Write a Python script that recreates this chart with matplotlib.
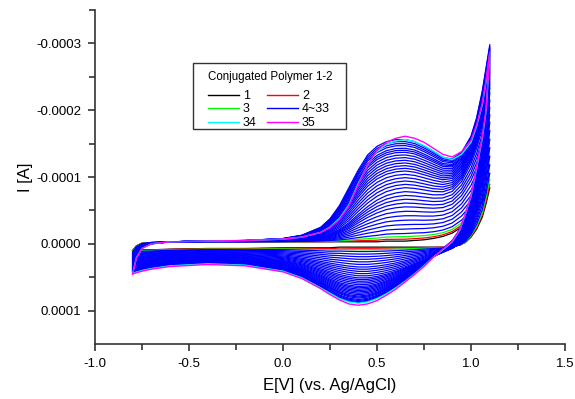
import numpy as np
import matplotlib.pyplot as plt
from matplotlib.ticker import FixedLocator, MultipleLocator, FuncFormatter
from matplotlib.patches import Rectangle
from matplotlib.lines import Line2D

plt.rcParams['font.family'] = ['Liberation Sans', 'DejaVu Sans']

## Potential grids (V vs Ag/AgCl), forward and reverse sweep
E_fwd = [-0.80, -0.78, -0.75, -0.70, -0.60, -0.40, -0.20, 0.00, 0.10, 0.20, 0.25, 0.30, 0.35, 0.40, 0.45,
         0.50, 0.55, 0.60, 0.65, 0.70, 0.75, 0.80, 0.85, 0.90, 0.95, 1.00, 1.03, 1.06, 1.08, 1.10]
E_rev = [1.10, 1.08, 1.06, 1.03, 1.00, 0.97, 0.94, 0.90, 0.85, 0.80, 0.75, 0.70, 0.65, 0.60, 0.55,
         0.50, 0.45, 0.40, 0.35, 0.30, 0.25, 0.20, 0.10, 0.00, -0.20, -0.40, -0.60, -0.70, -0.75, -0.80]

## Currents in units of 1e-4 A (negative = anodic, plotted upward)
# cycle 1 (black)
c1_fwd = [0.10, 0.03, -0.01, -0.02, -0.03, -0.03, -0.03, -0.03, -0.03, -0.03, -0.03, -0.03, -0.03, -0.03, -0.03,
          -0.03, -0.04, -0.04, -0.04, -0.05, -0.06, -0.08, -0.11, -0.16, -0.25, -0.38, -0.50, -0.63, -0.73, -0.84]
c1_rev = [-0.84, -0.60, -0.40, -0.22, -0.10, -0.02, 0.02, 0.04, 0.05, 0.05, 0.05, 0.05, 0.05, 0.05, 0.05,
          0.05, 0.05, 0.05, 0.05, 0.05, 0.06, 0.06, 0.06, 0.06, 0.07, 0.07, 0.08, 0.09, 0.09, 0.10]
# a middle blue cycle (peak about 0.8e-4 A)
mid_fwd = [0.26, 0.12, 0.03, -0.01, -0.03, -0.04, -0.04, -0.05, -0.07, -0.11, -0.15, -0.22, -0.32, -0.45, -0.57,
           -0.67, -0.74, -0.78, -0.80, -0.79, -0.77, -0.75, -0.75, -0.80, -0.95, -1.22, -1.45, -1.75, -2.00, -2.30]
mid_rev = [-2.30, -1.60, -1.15, -0.70, -0.35, -0.14, -0.01, 0.07, 0.13, 0.19, 0.25, 0.30, 0.35, 0.40, 0.44,
           0.47, 0.49, 0.49, 0.47, 0.44, 0.40, 0.36, 0.29, 0.24, 0.20, 0.18, 0.19, 0.21, 0.23, 0.26]
# last blue cycle (33)
c33_fwd = [0.43, 0.20, 0.06, 0.00, -0.03, -0.04, -0.05, -0.08, -0.13, -0.25, -0.38, -0.58, -0.85, -1.12, -1.35,
           -1.48, -1.55, -1.58, -1.58, -1.55, -1.48, -1.40, -1.31, -1.28, -1.38, -1.62, -1.90, -2.30, -2.65, -3.00]
c33_rev = [-3.00, -2.10, -1.65, -1.15, -0.72, -0.45, -0.22, -0.05, 0.07, 0.19, 0.32, 0.44, 0.55, 0.65, 0.74,
           0.82, 0.87, 0.89, 0.87, 0.82, 0.74, 0.65, 0.50, 0.40, 0.31, 0.29, 0.32, 0.36, 0.39, 0.43]
# cycle 34 (cyan)
c34_fwd = [0.45, 0.21, 0.07, 0.00, -0.03, -0.04, -0.05, -0.07, -0.10, -0.17, -0.25, -0.38, -0.58, -0.90, -1.18,
           -1.38, -1.49, -1.54, -1.56, -1.53, -1.47, -1.39, -1.30, -1.26, -1.34, -1.52, -1.76, -2.08, -2.42, -2.85]
c34_rev = [-2.85, -1.98, -1.58, -1.13, -0.71, -0.44, -0.20, -0.03, 0.09, 0.20, 0.33, 0.45, 0.56, 0.66, 0.75,
           0.82, 0.87, 0.89, 0.87, 0.82, 0.74, 0.66, 0.51, 0.41, 0.32, 0.30, 0.33, 0.37, 0.40, 0.44]
# cycle 35 (magenta)
c35_fwd = [0.45, 0.22, 0.07, 0.00, -0.03, -0.04, -0.05, -0.07, -0.10, -0.17, -0.24, -0.36, -0.56, -0.88, -1.18,
           -1.40, -1.52, -1.58, -1.61, -1.58, -1.52, -1.43, -1.34, -1.30, -1.38, -1.55, -1.78, -2.10, -2.45, -2.87]
c35_rev = [-2.87, -2.00, -1.60, -1.15, -0.72, -0.45, -0.21, -0.04, 0.08, 0.20, 0.34, 0.46, 0.57, 0.68, 0.77,
           0.85, 0.90, 0.92, 0.90, 0.84, 0.76, 0.67, 0.52, 0.42, 0.33, 0.31, 0.34, 0.38, 0.41, 0.45]

# oxidation peak height (1e-4 A) of each cycle, read near 0.65 V
template_levels = [0.0, 0.80, 1.58]
level_c2 = 0.03
level_c3 = 0.07
levels_blue = [0.12, 0.19, 0.26, 0.33, 0.40, 0.47, 0.54, 0.60, 0.66, 0.72, 0.78, 0.84, 0.89, 0.94, 0.99,
               1.04, 1.09, 1.13, 1.17, 1.21, 1.25, 1.29, 1.33, 1.37, 1.40, 1.43, 1.47, 1.50, 1.53, 1.56]

fwd_t = np.array([c1_fwd, mid_fwd, c33_fwd])
rev_t = np.array([c1_rev, mid_rev, c33_rev])
E_all = np.concatenate([E_fwd, E_rev])


def cycle_at(level):
    f = [np.interp(level, template_levels, fwd_t[:, i]) for i in range(fwd_t.shape[1])]
    r = [np.interp(level, template_levels, rev_t[:, i]) for i in range(rev_t.shape[1])]
    return np.concatenate([f, r]) * 1e-4


fig = plt.figure(figsize=(5.75, 3.99), dpi=100)
ax = fig.add_axes([95 / 575, 55 / 399, 470 / 575, 334 / 399])

ax.plot(E_all, np.concatenate([c1_fwd, c1_rev]) * 1e-4, color='black', lw=0.9)
ax.plot(E_all, cycle_at(level_c2), color='#ff0000', lw=0.9)
ax.plot(E_all, cycle_at(level_c3), color='#00ff00', lw=0.9)
for lv in levels_blue:
    ax.plot(E_all, cycle_at(lv), color='#0000ff', lw=0.9)
ax.plot(E_all, np.concatenate([c34_fwd, c34_rev]) * 1e-4, color='#00ffff', lw=1.0)
ax.plot(E_all, np.concatenate([c35_fwd, c35_rev]) * 1e-4, color='#ff00ff', lw=1.0)

ax.set_xlim(-1.0, 1.5)
ax.set_ylim(1.5e-4, -3.5e-4)
ax.xaxis.set_major_locator(MultipleLocator(0.5))
ax.xaxis.set_minor_locator(MultipleLocator(0.25))
ax.yaxis.set_major_locator(FixedLocator([-3e-4, -2e-4, -1e-4, 0.0, 1e-4]))
ax.yaxis.set_minor_locator(FixedLocator([-3.5e-4, -2.5e-4, -1.5e-4, -0.5e-4, 0.5e-4]))
ax.yaxis.set_major_formatter(FuncFormatter(lambda v, p: ('%.4f' % v).replace('-0.0000', '0.0000')))
ax.xaxis.set_major_formatter(FuncFormatter(lambda v, p: '%.1f' % v))

for s in ['top', 'right']:
    ax.spines[s].set_visible(False)
for s in ['left', 'bottom']:
    ax.spines[s].set_color('#333333')
    ax.spines[s].set_linewidth(1.2)
ax.tick_params(which='major', direction='out', length=5, width=1.2, color='#333333', labelsize=9.5, pad=5)
ax.tick_params(which='minor', direction='out', length=4, width=1.2, color='#333333')

ax.set_xlabel('E[V] (vs. Ag/AgCl)', fontsize=12, labelpad=6)
ax.set_ylabel('I [A]', fontsize=12, labelpad=2)

# legend box
fig.patches.append(Rectangle((193 / 575, 1 - 129 / 399), 153 / 575, 66 / 399, transform=fig.transFigure,
                             fill=False, edgecolor='#333333', lw=1.0))
handles = [Line2D([], [], color='black', lw=1), Line2D([], [], color='#00ff00', lw=1),
           Line2D([], [], color='#00ffff', lw=1), Line2D([], [], color='#ff0000', lw=1),
           Line2D([], [], color='#0000ff', lw=1), Line2D([], [], color='#ff00ff', lw=1)]
labels = ['1', '3', '34', '2', '4~33', '35']
leg = fig.legend(handles, labels, title='Conjugated Polymer 1-2', ncol=2, frameon=False, fontsize=9,
                 title_fontsize=8.3, loc='upper left', bbox_to_anchor=(208 / 575, 1 - 71 / 399),
                 borderpad=0, borderaxespad=0, handlelength=2.5, handletextpad=0.3, columnspacing=0.8,
                 labelspacing=0.12, alignment='left')
leg._legend_box.sep = 5

plt.savefig('out.png', dpi=100)
